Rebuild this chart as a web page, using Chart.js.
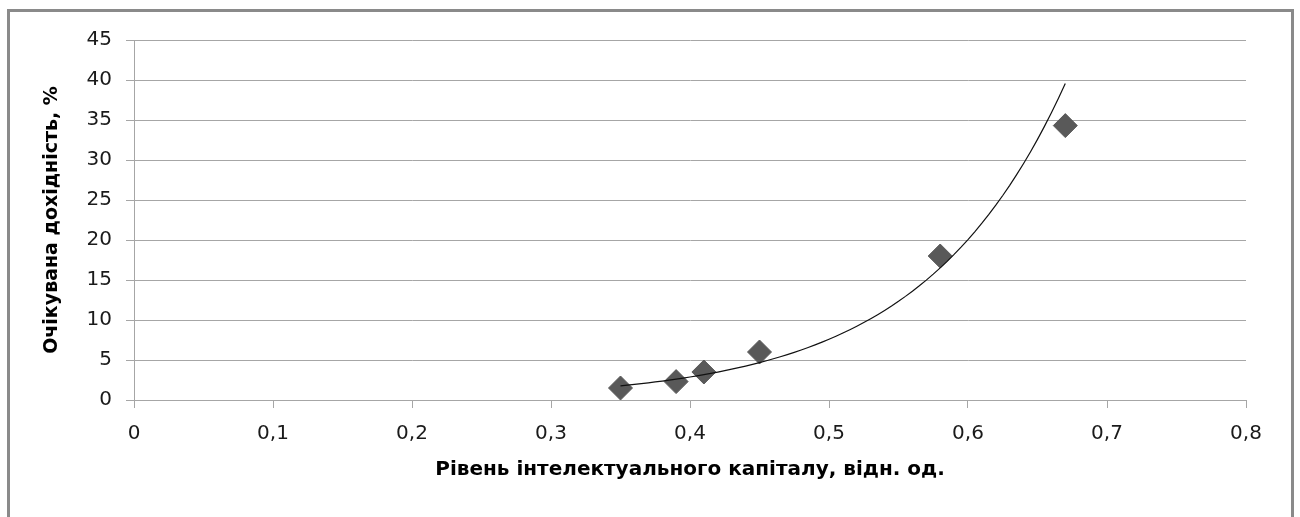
<!DOCTYPE html>
<html>
<head>
<meta charset="utf-8">
<script src="https://cdn.jsdelivr.net/npm/chart.js@4"></script>
<style>
  html, body { margin: 0; padding: 0; background: #fff; overflow: hidden; }
  #wrap { position: relative; width: 1300px; height: 517px; }
  #frame { position: absolute; left: 7px; top: 9px; width: 1281px; height: 520px;
           border: 3px solid #8a8a8a; box-sizing: content-box; }
  canvas { position: absolute; left: 0; top: 0; }
</style>
</head>
<body>
<div id="wrap">
  <div id="frame"></div>
  <canvas id="myChart" width="1300" height="517"></canvas>
</div>
<script>
// intellectual capital level vs expected return
var xValues = [0.35, 0.39, 0.41, 0.45, 0.58, 0.67];
var yValues = [1.5, 2.3, 3.5, 6.0, 18.0, 34.3];

var xTitle = "Рівень інтелектуального капіталу, відн. од.";
var yTitle = "Очікувана дохідність, %";

var tickFont = {family: "DejaVu Sans", size: 20};
var xTitleFont = {family: "DejaVu Sans", size: 20, weight: "bold"};
var yTitleFont = {family: "DejaVu Sans", size: 19, weight: "bold"};
var gridColor = "#a6a6a6";

// exponential trendline y = a*e^(b*x), least squares on ln(y)
var n = xValues.length, sx = 0, sy = 0, sxx = 0, sxy = 0;
for (var i = 0; i < n; i++) {
  var ly = Math.log(yValues[i]);
  sx += xValues[i]; sy += ly; sxx += xValues[i] * xValues[i]; sxy += xValues[i] * ly;
}
var b = (n * sxy - sx * sy) / (n * sxx - sx * sx);
var a = Math.exp((sy - b * sx) / n);
var trend = [];
var x0 = Math.min.apply(null, xValues), x1 = Math.max.apply(null, xValues);
for (var k = 0; k <= 64; k++) {
  var x = x0 + (x1 - x0) * k / 64;
  trend.push({x: x, y: a * Math.exp(b * x)});
}

var points = xValues.map(function (v, i) { return {x: v, y: yValues[i]}; });

var comma = function (v) { return String(Math.round(v * 10) / 10).replace(".", ","); };

new Chart("myChart", {
  type: "scatter",
  data: {
    datasets: [{
      type: "line",
      data: trend,
      borderColor: "#111",
      borderWidth: 1.2,
      pointRadius: 0,
      fill: false,
      order: 0
    }, {
      data: points,
      pointStyle: "rectRot",
      pointRadius: 12,
      pointHoverRadius: 12,
      backgroundColor: "#595959",
      borderColor: "#595959",
      borderWidth: 1,
      order: 1
    }]
  },
  options: {
    responsive: false,
    animation: false,
    layout: {padding: {left: 0, top: 40, right: 54, bottom: 0}},
    plugins: {legend: {display: false}, tooltip: {enabled: false}},
    scales: {
      x: {
        type: "linear",
        min: 0, max: 0.8,
        afterFit: function (s) { s.height = 117; },
        ticks: {stepSize: 0.1, color: "#1a1a1a", font: tickFont, padding: 14,
                callback: function (v) { return comma(v); }},
        grid: {drawOnChartArea: false, drawTicks: true, tickLength: 8, color: gridColor},
        border: {color: gridColor},
        title: {display: true, text: xTitle, color: "#000", font: xTitleFont,
                padding: {top: 0, bottom: 35}}
      },
      y: {
        min: 0, max: 45,
        afterFit: function (s) { s.width = 134; },
        ticks: {stepSize: 5, color: "#1a1a1a", font: tickFont, padding: 14},
        grid: {color: gridColor, tickLength: 8},
        border: {color: gridColor},
        title: {display: true, text: yTitle, color: "#000", font: yTitleFont,
                padding: {top: 41, bottom: 0}}
      }
    }
  }
});
</script>
</body>
</html>
